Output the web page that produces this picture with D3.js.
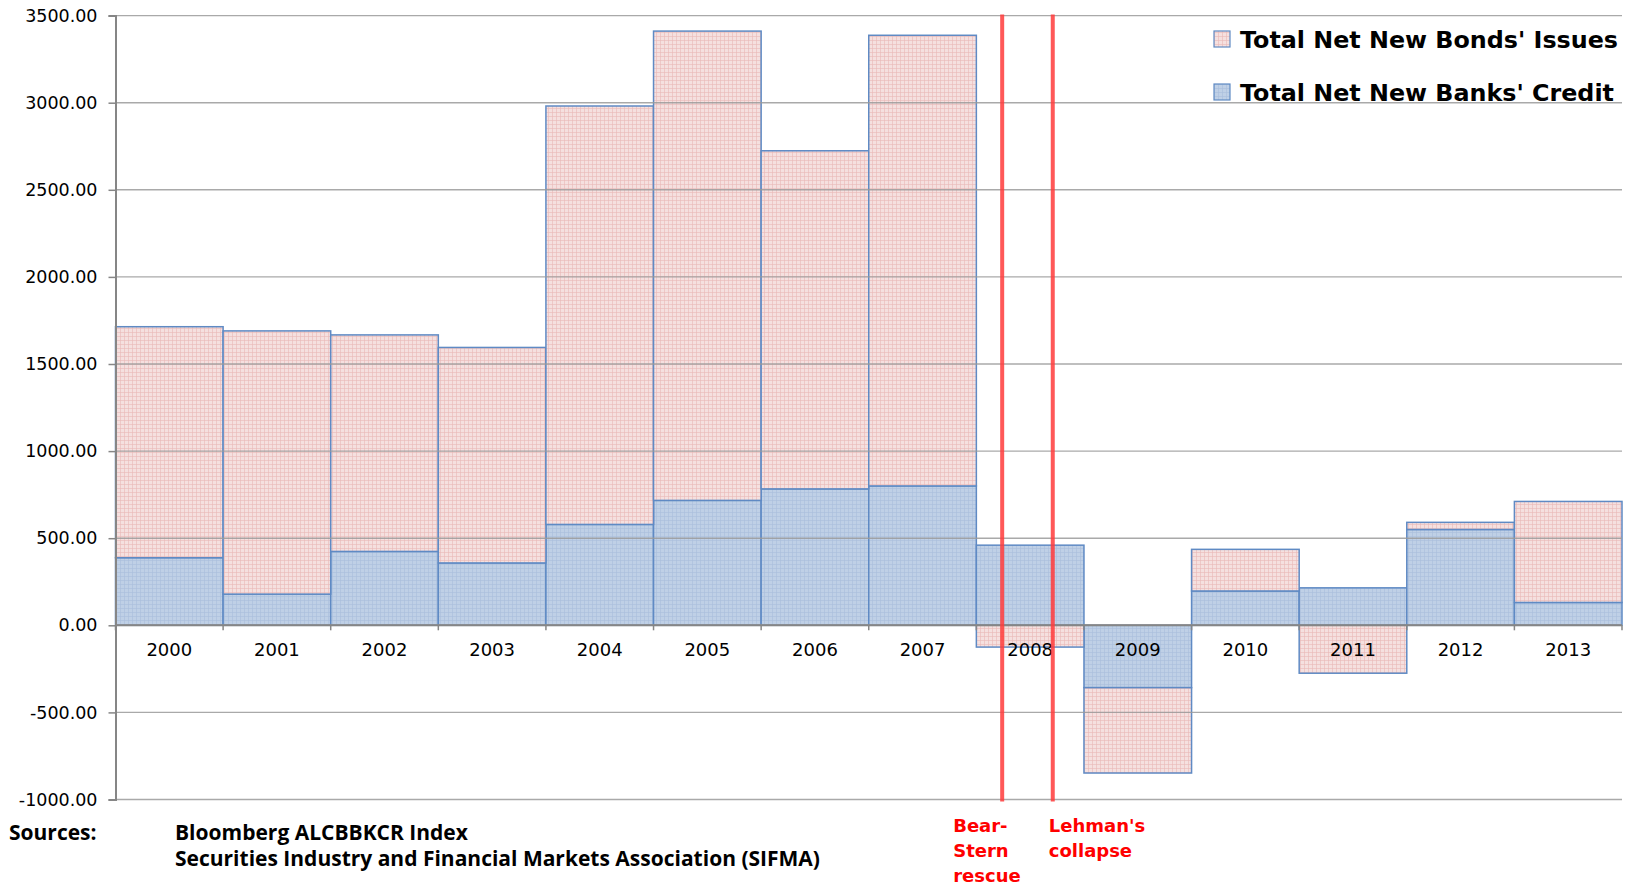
<!DOCTYPE html>
<html>
<head>
<meta charset="utf-8">
<script src="https://cdn.jsdelivr.net/npm/d3@7"></script>
<style>
  html, body { margin: 0; padding: 0; background: #fff; }
  svg { display: block; }
</style>
</head>
<body>
<div id="chart"></div>
<script>
// data
const years = ["2000","2001","2002","2003","2004","2005","2006","2007","2008","2009","2010","2011","2012","2013"];
const bankCredit = [388, 179, 424, 358, 579, 717, 783, 800, 460, -358, 197, 215, 550, 131];
const bondIssues = [1326, 1511, 1243, 1237, 2402, 2694, 1941, 2587, -125, -490, 239, -275, 41, 580];
const yTicks = [-1000, -500, 0, 500, 1000, 1500, 2000, 2500, 3000, 3500];
const seriesNames = ["Total Net New Bonds' Issues", "Total Net New Banks' Credit"];
// events as fractional year positions
const events = [
  { year: "2008", frac: 0.24, label: ["Bear-", "Stern", "rescue"] },
  { year: "2008", frac: 0.71, label: ["Lehman's", "collapse"] }
];
const eventLabelShift = [-49, -4];
const sources = ["Bloomberg ALCBBKCR Index", "Securities Industry and Financial Markets Association (SIFMA)"];

const W = 1630, H = 889;
const plotLeft = 115.5, plotRight = 1622, plotTop = 15.6, plotBottom = 799.5;

const svg = d3.select("#chart").append("svg")
    .attr("width", W)
    .attr("height", H)
    .style("font-family", "'DejaVu Sans', Verdana, sans-serif");

// fill patterns (Excel style fine grid)
const defs = svg.append("defs");
function makePattern(id, bg, line) {
    const p = defs.append("pattern")
        .attr("id", id)
        .attr("patternUnits", "userSpaceOnUse")
        .attr("width", 4).attr("height", 4);
    p.append("rect").attr("width", 4).attr("height", 4).attr("fill", bg);
    p.append("path").attr("d", "M0,0.5H4M0.5,0V4")
        .attr("stroke", line).attr("stroke-width", 0.6);
}
makePattern("pinkPat", "#f5e0df", "#e9b9b7");
makePattern("bluePat", "#bfd0e6", "#a9bedc");

const x = d3.scaleBand().domain(years).range([plotLeft, plotRight]).padding(0);
const y = d3.scaleLinear().domain([-1000, 3500]).range([plotBottom, plotTop]);

// stack: bank first, bonds after; negatives go down separately
const table = years.map((yr, i) => ({ year: yr, bank: bankCredit[i], bonds: bondIssues[i] }));
const stack = d3.stack().keys(["bank", "bonds"]).offset(d3.stackOffsetDiverging);
const layers = stack(table);
const fills = { bank: "url(#bluePat)", bonds: "url(#pinkPat)" };

const bars = svg.append("g");
layers.forEach(layer => {
    bars.selectAll(null)
        .data(layer)
        .join("rect")
        .attr("x", d => x(d.data.year))
        .attr("width", x.bandwidth())
        .attr("y", d => y(Math.max(d[0], d[1])))
        .attr("height", d => Math.abs(y(d[0]) - y(d[1])))
        .attr("fill", fills[layer.key])
        .attr("stroke", "#5f8ac4")
        .attr("stroke-width", 1.5);
});

// gridlines drawn over the bars
svg.append("g")
    .selectAll("line")
    .data(yTicks)
    .join("line")
    .attr("x1", plotLeft).attr("x2", plotRight)
    .attr("y1", d => y(d)).attr("y2", d => y(d))
    .attr("stroke", "#9a9a9a")
    .attr("stroke-opacity", 0.85)
    .attr("stroke-width", 1.4);

// y axis (plain hyphen for negatives, like Excel)
const fmt = d3.formatLocale({ decimal: ".", thousands: ",", grouping: [3], currency: ["$", ""], minus: "-" }).format(".2f");
const yAxis = svg.append("g")
    .attr("transform", "translate(" + plotLeft + ",0)")
    .call(d3.axisLeft(y).tickValues(yTicks).tickFormat(fmt).tickSize(7).tickPadding(11));
yAxis.select(".domain").attr("stroke", "#868686").attr("stroke-width", 2);
yAxis.selectAll(".tick line").attr("stroke", "#868686").attr("stroke-width", 1.5);
yAxis.selectAll("text").attr("font-size", 17.5).attr("fill", "#000")
    .attr("font-family", "'DejaVu Sans', sans-serif");

// zero axis line with category boundary ticks
const zeroY = y(0);
svg.append("line")
    .attr("x1", plotLeft).attr("x2", plotRight)
    .attr("y1", zeroY).attr("y2", zeroY)
    .attr("stroke", "#868686").attr("stroke-width", 2);
svg.append("g")
    .selectAll("line")
    .data(years.concat(["end"]))
    .join("line")
    .attr("x1", (d, i) => plotLeft + i * x.bandwidth())
    .attr("x2", (d, i) => plotLeft + i * x.bandwidth())
    .attr("y1", zeroY).attr("y2", zeroY + 5)
    .attr("stroke", "#868686").attr("stroke-width", 1.5);

// year labels
svg.append("g")
    .selectAll("text")
    .data(years)
    .join("text")
    .attr("x", d => x(d) + x.bandwidth() / 2)
    .attr("y", zeroY + 31)
    .attr("text-anchor", "middle")
    .attr("font-size", 18)
    .attr("fill", "#000")
    .text(d => d);

// event lines
const ev = svg.append("g");
events.forEach((e, k) => {
    const ex = x(e.year) + e.frac * x.bandwidth();
    ev.append("line")
        .attr("x1", ex).attr("x2", ex)
        .attr("y1", plotTop - 1).attr("y2", plotBottom + 2)
        .attr("stroke", "#ff3b3b")
        .attr("stroke-opacity", 0.85)
        .attr("stroke-width", 4);
    const tx = ex + eventLabelShift[k];
    const t = ev.append("text")
        .attr("x", tx)
        .attr("y", plotBottom + 32)
        .attr("font-size", 18)
        .attr("font-weight", "bold")
        .attr("fill", "#ff0000");
    e.label.forEach((s, i) => {
        t.append("tspan").attr("x", tx).attr("dy", i === 0 ? 0 : 25).text(s);
    });
});

// legend
const legend = svg.append("g").attr("transform", "translate(1214,0)");
const legendFills = ["url(#pinkPat)", "url(#bluePat)"];
seriesNames.forEach((name, i) => {
    const ly = 39 + i * 53;
    legend.append("rect")
        .attr("x", 0).attr("y", ly - 8)
        .attr("width", 16).attr("height", 16)
        .attr("fill", legendFills[i])
        .attr("stroke", "#5f8ac4").attr("stroke-width", 1.2);
    legend.append("text")
        .attr("x", 26).attr("y", ly + 8.5)
        .attr("font-size", 23.8)
        .attr("font-weight", "bold")
        .attr("fill", "#000")
        .text(name);
});

// sources
const src = svg.append("g")
    .style("font-family", "'Open Sans', Lato, sans-serif")
    .attr("font-weight", 700)
    .attr("font-size", 21)
    .attr("fill", "#000");
src.append("text").attr("x", 9).attr("y", 840).text("Sources:");
sources.forEach((s, i) => {
    src.append("text").attr("x", 175).attr("y", 840 + i * 26).text(s);
});
</script>
</body>
</html>
